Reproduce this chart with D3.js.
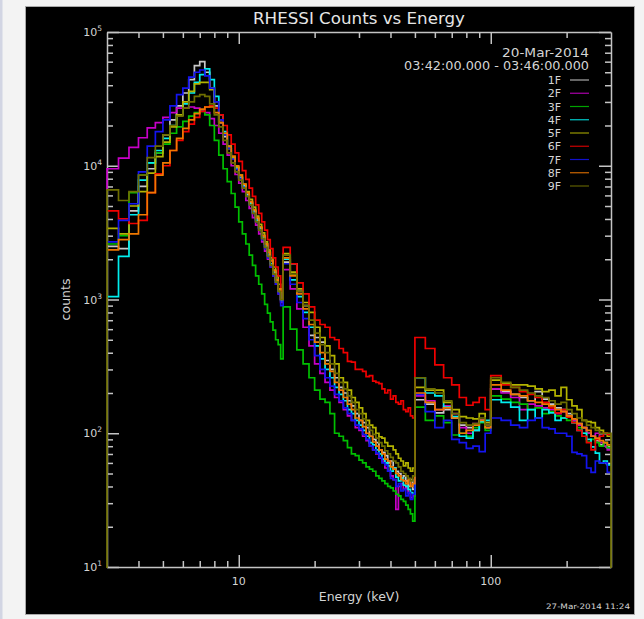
<!DOCTYPE html>
<html>
<head>
<meta charset="utf-8">
<script src="https://cdn.jsdelivr.net/npm/d3@7"></script>
<style>
  html, body { margin: 0; padding: 0; background: #f3f3f3; }
  svg { display: block; }
  text { font-family: "DejaVu Sans", "Liberation Sans", sans-serif; }
</style>
</head>
<body>
<svg id="chart" width="644" height="619"></svg>
<script>
// RHESSI energy bin edges (keV): 1/3 keV to 15, 1 keV to 50, 5 keV to 100, 10 keV to 300
const energyEdges = [3, 3.333, 3.667, 4, 4.333, 4.667, 5, 5.333, 5.667, 6, 6.333, 6.667, 7, 7.333, 7.667, 8,
  8.333, 8.667, 9, 9.333, 9.667, 10, 10.333, 10.667, 11, 11.333, 11.667, 12, 12.333, 12.667, 13, 13.333,
  13.667, 14, 14.333, 14.667, 15, 16, 17, 18, 19, 20, 21, 22, 23, 24, 25, 26, 27, 28, 29, 30, 31, 32, 33,
  34, 35, 36, 37, 38, 39, 40, 41, 42, 43, 44, 45, 46, 47, 48, 49, 50, 55, 60, 65, 70, 75, 80, 85, 90, 95,
  100, 110, 120, 130, 140, 150, 160, 170, 180, 190, 200, 210, 220, 230, 240, 250, 260, 270, 280, 290, 300];

const detectors = ["1F", "2F", "3F", "4F", "5F", "6F", "7F", "8F", "9F"];
const detectorColors = ["#c8c8c8", "#c800c8", "#00c000", "#00eeee", "#b4b400", "#f00000", "#1414f0", "#f07800", "#6e6e00"];

// counts per energy bin for each front segment
const counts1F = [2500, 2400, 4600, 7000, 9500, 12500, 17000, 22000, 28000, 35000, 44000, 56000, 60000, 50000, 38000, 28000,
  21000, 16500, 13500, 11300, 9600, 8200, 7100, 6100, 5300, 4600, 4000, 3450, 3000, 2600, 2250, 1950, 1650, 1400, 1200, 1000,
  1900, 1850, 1150, 900, 540, 520, 480, 350, 300, 260, 220, 200, 175, 160, 140, 125, 120, 110, 95, 90, 85, 75, 72, 68, 60,
  62, 55, 52, 50, 46, 48, 44, 40, 45, 38,
  178, 165, 142, 150, 130, 115, 110, 105, 125, 110,
  215, 205, 195, 185, 175, 205, 180, 165, 155, 150, 140, 125, 118, 110, 100, 95, 88, 82, 85, 78];

const counts2F = [9500, 11400, 13700, 16200, 19200, 21000, 23000, 25000, 27000, 27000, 27500, 27000, 26000, 25000, 22500, 20000,
  17500, 14500, 12000, 10000, 8600, 7400, 6400, 5500, 4800, 4100, 3600, 3100, 2700, 2300, 2000, 1750, 1500, 1300, 1100, 950,
  1670, 1200, 850, 620, 450, 330, 280, 240, 210, 185, 170, 150, 135, 125, 110, 105, 95, 88, 80, 75, 70, 65, 62, 55, 52,
  48, 45, 27, 40, 42, 38, 39, 36, 33, 34,
  190, 175, 150, 160, 140, 110, 100, 118, 125, 115,
  215, 200, 185, 150, 165, 160, 155, 150, 140, 145, 135, 125, 115, 110, 100, 95, 100, 85, 80, 75];

const counts3F = [2600, 3000, 6300, 8500, 10500, 12500, 14500, 17500, 19500, 21500, 23500, 25000, 25500, 24000, 20000, 15500,
  12000, 9500, 7600, 6200, 4900, 3800, 3100, 2600, 2150, 1800, 1500, 1300, 1100, 920, 790, 680, 590, 500, 460, 360,
  880, 600, 420, 330, 260, 210, 180, 170, 140, 100, 95, 88, 78, 70, 68, 63, 60, 56, 54, 52, 48, 46, 44, 42, 40,
  39, 37, 35, 34, 32, 31, 29, 27, 25, 22,
  157, 125, 135, 120, 97, 100, 95, 110, 120, 105,
  190, 180, 170, 165, 150, 155, 140, 145, 135, 130, 125, 120, 110, 100, 86, 90, 85, 80, 85, 78];

const counts4F = [1050, 2100, 4300, 7800, 10500, 13000, 16000, 20000, 24000, 29000, 35000, 42000, 48000, 53000, 44000, 33000,
  24000, 18000, 14000, 11500, 9600, 8100, 7000, 6000, 5200, 4500, 3900, 3400, 2900, 2500, 2150, 1850, 1600, 1350, 1150, 980,
  2000, 1400, 1050, 800, 620, 450, 360, 300, 260, 220, 195, 175, 150, 140, 125, 115, 105, 95, 85, 82, 75, 70, 64, 60, 57,
  52, 55, 47, 44, 46, 41, 40, 38, 36, 35,
  260, 200, 190, 157, 133, 95, 92, 105, 122, 125,
  178, 170, 157, 125, 150, 130, 150, 142, 125, 130, 135, 120, 105, 100, 90, 79, 71, 60, 62, 58];

const counts5F = [3400, 3100, 5000, 6400, 8800, 11700, 15000, 19500, 24000, 30000, 36000, 41000, 42000, 42000, 37000, 30000,
  22000, 17000, 13500, 11500, 9800, 8500, 7300, 6400, 5600, 4900, 4200, 3650, 3150, 2700, 2350, 2050, 1750, 1500, 1300, 1100,
  2200, 1600, 1200, 950, 800, 620, 520, 450, 380, 330, 260, 240, 210, 185, 170, 155, 140, 125, 115, 110, 100, 94, 92, 85, 80,
  80, 75, 70, 65, 62, 57, 60, 55, 52, 55,
  220, 210, 210, 170, 150, 133, 130, 128, 140, 120,
  250, 235, 230, 230, 225, 215, 205, 210, 190, 220, 178, 160, 150, 125, 122, 120, 110, 105, 100, 95];

const counts6F = [4600, 4000, 3700, 3900, 6300, 8700, 10000, 13000, 15500, 18000, 20500, 23000, 25500, 27500, 28000, 27000,
  24000, 20000, 17000, 14500, 12500, 10800, 9200, 7900, 6800, 5900, 5100, 4400, 3800, 3300, 2800, 2400, 2050, 1750, 1500, 1150,
  2450, 1850, 1330, 1100, 880, 700, 650, 620, 520, 500, 430, 400, 345, 340, 300, 300, 290, 265, 270, 245, 240, 235, 215, 200, 210,
  180, 190, 170, 165, 175, 150, 145, 155, 135, 130,
  520, 430, 325, 260, 230, 185, 162, 170, 185, 150,
  270, 230, 220, 205, 195, 185, 170, 155, 142, 150, 132, 120, 105, 95, 85, 75, 90, 95, 100, 98];

const counts7F = [2700, 3900, 5200, 9000, 14000, 18000, 22000, 28000, 34000, 38000, 46000, 50000, 52000, 47000, 38000, 30000,
  22000, 17000, 13500, 11200, 9400, 8000, 6900, 5900, 5100, 4400, 3800, 3300, 2800, 2400, 2050, 1750, 1500, 1300, 1100, 900,
  1850, 1300, 950, 720, 500, 380, 300, 260, 225, 195, 175, 155, 140, 125, 115, 108, 98, 90, 80, 75, 71, 66, 60, 58, 52,
  46, 45, 40, 42, 37, 38, 34, 36, 32, 35,
  195, 145, 110, 125, 90, 85, 77, 80, 73, 100,
  130, 125, 115, 110, 125, 130, 110, 108, 100, 100, 95, 72, 70, 68, 55, 51, 62, 60, 60, 51];

const counts8F = [2350, 2800, 3100, 4300, 6300, 8500, 10500, 13000, 16000, 19000, 22000, 24500, 26500, 27500, 27500, 25000,
  21000, 17500, 14000, 11800, 10000, 8500, 7300, 6300, 5400, 4700, 4100, 3500, 3000, 2600, 2250, 1950, 1650, 1400, 1200, 1000,
  2050, 1500, 1100, 850, 650, 480, 400, 330, 290, 240, 210, 185, 165, 150, 130, 125, 112, 100, 95, 86, 80, 75, 70, 64, 62,
  56, 54, 50, 48, 45, 44, 42, 45, 40, 42,
  200, 170, 150, 155, 130, 100, 105, 115, 125, 110,
  230, 210, 195, 190, 175, 170, 165, 160, 150, 145, 135, 128, 118, 110, 105, 95, 92, 88, 85, 82];

const counts9F = [6600, 5500, 6400, 8500, 11500, 14000, 17000, 20000, 23500, 27000, 30000, 33000, 34000, 33000, 29000, 24000,
  19500, 15500, 12500, 10500, 9000, 7800, 6800, 5900, 5100, 4400, 3800, 3300, 2850, 2450, 2100, 1800, 1550, 1350, 1150, 1000,
  2150, 1550, 1150, 900, 700, 560, 460, 400, 330, 280, 240, 215, 190, 170, 150, 140, 128, 115, 105, 98, 92, 85, 80, 74, 70,
  66, 62, 60, 56, 52, 50, 48, 46, 44, 48,
  260, 215, 200, 175, 140, 120, 115, 118, 130, 115,
  260, 240, 220, 210, 200, 190, 185, 175, 165, 170, 150, 140, 130, 125, 115, 110, 105, 100, 100, 100];

// counts in the bins just outside the plotted range (null = not drawn)
const countsBelow3keV = [null, 6600, null, null, null, null, null, null, 1];
const countsAbove300keV = [null, null, null, null, null, null, null, null, 1];

const seriesCounts = [counts1F, counts2F, counts3F, counts4F, counts5F, counts6F, counts7F, counts8F, counts9F];

const titleText = "RHESSI Counts vs Energy";
const xLabel = "Energy (keV)";
const yLabel = "counts";
const dateText = "20-Mar-2014";
const timeRangeText = "03:42:00.000 - 03:46:00.000";
const stampText = "27-Mar-2014 11:24";

const xMajorTicks = [10, 100];
const yMajorTicks = [10, 100, 1000, 10000, 100000];

// ---- layout ----
const W = 644, H = 619;
const plot = { left: 107, right: 611, top: 32, bottom: 567 };
const axisColor = "#c4c4c4";
const textColor = "#d4d4d4";

const svg = d3.select("#chart");

svg.append("rect").attr("x", 0).attr("y", 0).attr("width", W).attr("height", H).attr("fill", "#f3f3f3");
svg.append("rect").attr("x", 0).attr("y", 0).attr("width", 2.5).attr("height", H).attr("fill", "#d2d5e3");
svg.append("rect").attr("x", 25.5).attr("y", 6.5).attr("width", 609).attr("height", 608)
  .attr("fill", "#000").attr("stroke", "#a9a9a9").attr("stroke-width", 1);

const x = d3.scaleLog().domain([3, 300]).range([plot.left, plot.right]);
const y = d3.scaleLog().domain([10, 1e5]).range([plot.bottom, plot.top]);

const xAll = x.ticks().filter(v => v > 3 && v < 300);
const xMinor = xAll.filter(v => !xMajorTicks.includes(v));
const yAll = y.ticks();
const yMinor = yAll.filter(v => !yMajorTicks.includes(v));

const majorLen = 12, minorLen = 6;

function styleAxis(g) {
  g.selectAll("path, line").attr("stroke", axisColor).attr("stroke-width", 1.5);
  g.selectAll("text").remove();
}

const axes = svg.append("g");

// bottom axis (ticks point up into the plot)
axes.append("g").attr("transform", `translate(0,${plot.bottom})`)
  .call(d3.axisBottom(x).tickValues(xMajorTicks).tickSizeInner(-majorLen).tickSizeOuter(0).tickFormat(""))
  .call(styleAxis);
axes.append("g").attr("transform", `translate(0,${plot.bottom})`)
  .call(d3.axisBottom(x).tickValues(xMinor).tickSizeInner(-minorLen).tickSizeOuter(0).tickFormat(""))
  .call(g => g.select(".domain").remove()).call(styleAxis);

// top axis (ticks point down)
axes.append("g").attr("transform", `translate(0,${plot.top})`)
  .call(d3.axisTop(x).tickValues(xMajorTicks).tickSizeInner(-majorLen).tickSizeOuter(0).tickFormat(""))
  .call(styleAxis);
axes.append("g").attr("transform", `translate(0,${plot.top})`)
  .call(d3.axisTop(x).tickValues(xMinor).tickSizeInner(-minorLen).tickSizeOuter(0).tickFormat(""))
  .call(g => g.select(".domain").remove()).call(styleAxis);

// left axis
axes.append("g").attr("transform", `translate(${plot.left},0)`)
  .call(d3.axisLeft(y).tickValues(yMajorTicks).tickSizeInner(-majorLen).tickSizeOuter(0).tickFormat(""))
  .call(styleAxis);
axes.append("g").attr("transform", `translate(${plot.left},0)`)
  .call(d3.axisLeft(y).tickValues(yMinor).tickSizeInner(-minorLen).tickSizeOuter(0).tickFormat(""))
  .call(g => g.select(".domain").remove()).call(styleAxis);

// right axis
axes.append("g").attr("transform", `translate(${plot.right},0)`)
  .call(d3.axisRight(y).tickValues(yMajorTicks).tickSizeInner(-majorLen).tickSizeOuter(0).tickFormat(""))
  .call(styleAxis);
axes.append("g").attr("transform", `translate(${plot.right},0)`)
  .call(d3.axisRight(y).tickValues(yMinor).tickSizeInner(-minorLen).tickSizeOuter(0).tickFormat(""))
  .call(g => g.select(".domain").remove()).call(styleAxis);

// x tick labels
axes.selectAll("text.xlab").data(xMajorTicks).join("text")
  .attr("class", "xlab")
  .attr("x", d => x(d)).attr("y", plot.bottom + 18)
  .attr("text-anchor", "middle").attr("font-size", 11).attr("fill", textColor)
  .text(d => String(d));

// y tick labels as 10^n
const yLab = axes.selectAll("text.ylab").data(yMajorTicks).join("text")
  .attr("class", "ylab")
  .attr("x", plot.left - 5).attr("y", d => y(d) + 4)
  .attr("text-anchor", "end").attr("font-size", 11).attr("fill", textColor);
yLab.append("tspan").text("10");
yLab.append("tspan").attr("dy", -5).attr("font-size", 7.5).text(d => String(Math.round(Math.log10(d))));

// axis titles
svg.append("text").attr("x", (plot.left + plot.right) / 2).attr("y", 601)
  .attr("text-anchor", "middle").attr("font-size", 12.5).attr("fill", textColor).text(xLabel);
svg.append("text").attr("transform", `translate(70,${(plot.top + plot.bottom) / 2}) rotate(-90)`)
  .attr("text-anchor", "middle").attr("font-size", 12.5).attr("fill", textColor).text(yLabel);

// title
svg.append("text").attr("x", 359).attr("y", 24).attr("text-anchor", "middle")
  .attr("font-size", 15).attr("fill", "#e6e6e6")
  .attr("textLength", 212).attr("lengthAdjust", "spacingAndGlyphs").text(titleText);

// spectra
svg.append("clipPath").attr("id", "plotClip").append("rect")
  .attr("x", plot.left - 1).attr("y", plot.top - 1)
  .attr("width", plot.right - plot.left + 2).attr("height", plot.bottom - plot.top + 2);

const stepLine = d3.line().x(d => x(d[0])).y(d => y(d[1])).curve(d3.curveStepAfter);

function stepPoints(values, lead, trail) {
  const pts = [];
  if (lead != null) pts.push([energyEdges[0], lead]);
  values.forEach((v, i) => pts.push([energyEdges[i], v]));
  const end = energyEdges[values.length];
  pts.push([end, values[values.length - 1]]);
  if (trail != null) pts.push([end, trail]);
  return pts;
}

const dataG = svg.append("g").attr("clip-path", "url(#plotClip)");
seriesCounts.forEach((vals, i) => {
  dataG.append("path")
    .attr("d", stepLine(stepPoints(vals, countsBelow3keV[i], countsAbove300keV[i])))
    .attr("fill", "none")
    .attr("stroke", detectorColors[i])
    .attr("stroke-width", 1.7)
    .attr("stroke-linejoin", "miter");
});

// annotation block and legend
svg.append("text").attr("x", 589).attr("y", 57).attr("text-anchor", "end")
  .attr("font-size", 11.5).attr("fill", textColor)
  .attr("textLength", 87).attr("lengthAdjust", "spacingAndGlyphs").text(dateText);
svg.append("text").attr("x", 589).attr("y", 70).attr("text-anchor", "end")
  .attr("font-size", 11.5).attr("fill", textColor)
  .attr("textLength", 185).attr("lengthAdjust", "spacingAndGlyphs").text(timeRangeText);

const legendY = d3.scaleLinear().domain([0, 8]).range([80, 186]);
const legend = svg.append("g");
detectors.forEach((name, i) => {
  legend.append("text").attr("x", 561).attr("y", legendY(i) + 4)
    .attr("text-anchor", "end").attr("font-size", 11).attr("fill", textColor).text(name);
  legend.append("line").attr("x1", 570).attr("x2", 589)
    .attr("y1", legendY(i)).attr("y2", legendY(i))
    .attr("stroke", detectorColors[i]).attr("stroke-width", 1.2).attr("opacity", 0.85);
});

// creation stamp
svg.append("text").attr("x", 630).attr("y", 609).attr("text-anchor", "end")
  .attr("font-size", 7.5).attr("fill", textColor)
  .attr("textLength", 84).attr("lengthAdjust", "spacingAndGlyphs").text(stampText);
</script>
</body>
</html>
